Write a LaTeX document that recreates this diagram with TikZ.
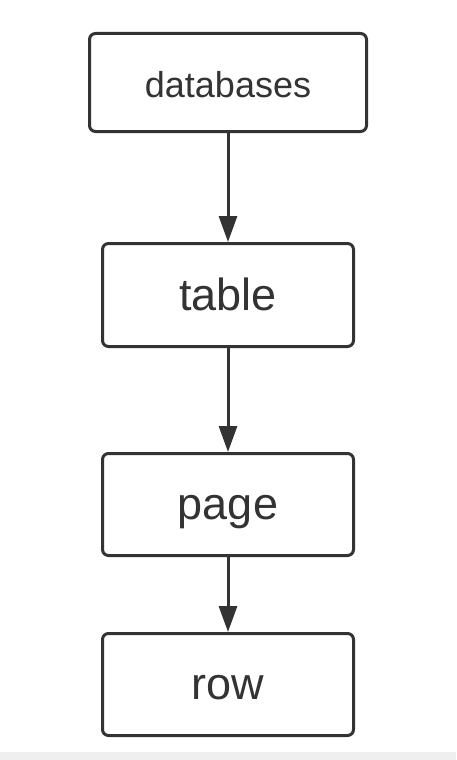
\documentclass[tikz,border=0pt]{standalone}
\usepackage{fontspec}
\setmainfont{Liberation Sans}
\usetikzlibrary{arrows.meta,positioning}

\definecolor{inkgray}{HTML}{333333}
\definecolor{bargray}{HTML}{EFEFEF}

\begin{document}
\begin{tikzpicture}[
    x=1pt, y=1pt,
    box/.style={rectangle, draw=inkgray, line width=3pt, rounded corners=6pt,
                inner sep=0pt, minimum width=251pt, minimum height=102pt,
                text height=30pt, text depth=0pt,
                text=inkgray, font=\fontsize{45}{50}\selectfont},
    arrow/.style={-{Triangle[length=26pt,width=18pt]}, draw=inkgray, line width=3pt}
  ]
    % page and bottom bar
    \fill[white] (0,0) rectangle (456,-760);
    \fill[bargray] (0,-752) rectangle (456,-760);

    \node[box, minimum width=277pt, minimum height=98pt,
          font=\fontsize{36}{40}\selectfont] (dbs) at (228,-82.5) {databases};
    \node[box, minimum height=103pt, below=109pt of dbs] (tbl) {table};
    \node[box, below=104pt of tbl] (pg) {page};
    \node[box, below=75pt of pg] (rw) {row};

    \foreach \a/\b in {dbs/tbl, tbl/pg, pg/rw}
      \draw[arrow] (\a) -- (\b);
\end{tikzpicture}
\end{document}
